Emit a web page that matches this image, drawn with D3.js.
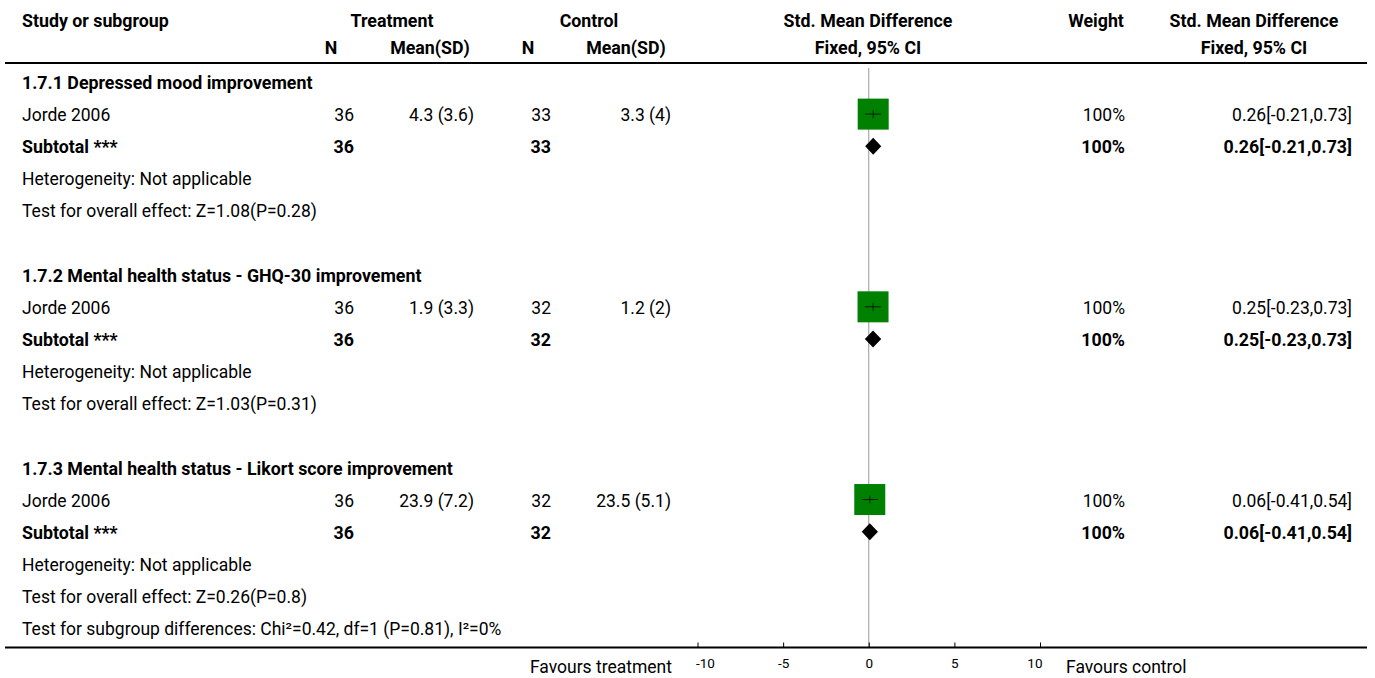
<!DOCTYPE html>
<html>
<head>
<meta charset="utf-8">
<script src="https://cdn.jsdelivr.net/npm/d3@7"></script>
<style>
  html, body { margin: 0; padding: 0; background: #fff; }
  svg { display: block; }
  text { font-family: Roboto, "Open Sans", sans-serif; font-size: 17.5px; fill: #000; }
  .b { font-weight: bold; font-size: 17.8px; }
  .tick text { font-family: Roboto, sans-serif; font-size: 13.5px; }
</style>
</head>
<body>
<svg id="chart" width="1375" height="678"></svg>
<script>
// ---------- data ----------
const subgroupTitles = [
  "1.7.1 Depressed mood improvement",
  "1.7.2 Mental health status - GHQ-30 improvement",
  "1.7.3 Mental health status - Likort score improvement"
];
const studyNames = ["Jorde 2006", "Jorde 2006", "Jorde 2006"];
const treatN = [36, 36, 36];
const treatMean = [4.3, 1.9, 23.9];
const treatSD = [3.6, 3.3, 7.2];
const ctrlN = [33, 32, 32];
const ctrlMean = [3.3, 1.2, 23.5];
const ctrlSD = [4, 2, 5.1];
const smd = [0.26, 0.25, 0.06];
const ciLow = [-0.21, -0.23, -0.41];
const ciHigh = [0.73, 0.73, 0.54];
const weights = [100, 100, 100];
const subtotalSmd = [0.26, 0.25, 0.06];
const subtotalLow = [-0.21, -0.23, -0.41];
const subtotalHigh = [0.73, 0.73, 0.54];
const heterogeneityText = [
  "Heterogeneity: Not applicable",
  "Heterogeneity: Not applicable",
  "Heterogeneity: Not applicable"
];
const overallEffectText = [
  "Test for overall effect: Z=1.08(P=0.28)",
  "Test for overall effect: Z=1.03(P=0.31)",
  "Test for overall effect: Z=0.26(P=0.8)"
];
const subgroupDiffText = "Test for subgroup differences: Chi\u00b2=0.42, df=1 (P=0.81), I\u00b2=0%";
const axisTicks = [-10, -5, 0, 5, 10];
const favoursLeft = "Favours treatment";
const favoursRight = "Favours control";

// ---------- layout ----------
const svg = d3.select("#chart");
const x = d3.scaleLinear().domain([-10, 10]).range([697.5, 1040]);
const rowY = d3.scaleLinear().domain([0, 17]).range([82, 628]);
const boxSize = d3.scaleSqrt().domain([0, 100]).range([0, 31]);
const fmt = (m, s) => `${m} (${s})`;
const ci = (e, l, h) => `${e}[${l},${h}]`;

const col = {
  study: 22, tN: 354, tM: 474, cN: 551, cM: 671, w: 1125, ci: 1352
};
const header1 = 20, header2 = 47, headerLine = 63, axisY = 647.5;

function txt(xp, yp, s, anchor, bold) {
  svg.append("text").attr("x", xp).attr("y", yp).attr("dy", "0.4em")
    .attr("text-anchor", anchor || "start").attr("class", bold ? "b" : null).text(s);
}

// header
txt(col.study, header1, "Study or subgroup", "start", true);
txt(392, header1, "Treatment", "middle", true);
txt(589, header1, "Control", "middle", true);
txt(868, header1, "Std. Mean Difference", "middle", true);
txt(1096, header1, "Weight", "middle", true);
txt(1254, header1, "Std. Mean Difference", "middle", true);
txt(331, header2, "N", "middle", true);
txt(430, header2, "Mean(SD)", "middle", true);
txt(528, header2, "N", "middle", true);
txt(626, header2, "Mean(SD)", "middle", true);
txt(868, header2, "Fixed, 95% CI", "middle", true);
txt(1254, header2, "Fixed, 95% CI", "middle", true);

svg.append("line").attr("x1", 5).attr("x2", 1367).attr("y1", headerLine).attr("y2", headerLine)
  .attr("stroke", "#000").attr("stroke-width", 2);

// zero line
svg.append("line").attr("x1", x(0)).attr("x2", x(0)).attr("y1", 68).attr("y2", axisY)
  .attr("stroke", "#999").attr("stroke-width", 1);

// rows
subgroupTitles.forEach((title, i) => {
  const base = i * 6;
  txt(col.study, rowY(base), title, "start", true);
  const ys = rowY(base + 1);
  txt(col.study, ys, studyNames[i]);
  txt(col.tN, ys, treatN[i], "end");
  txt(col.tM, ys, fmt(treatMean[i], treatSD[i]), "end");
  txt(col.cN, ys, ctrlN[i], "end");
  txt(col.cM, ys, fmt(ctrlMean[i], ctrlSD[i]), "end");
  txt(col.w, ys, weights[i] + "%", "end");
  txt(col.ci, ys, ci(smd[i], ciLow[i], ciHigh[i]), "end");
  // box
  const s = boxSize(weights[i]);
  svg.append("rect").attr("x", x(smd[i]) - s / 2).attr("y", ys - s / 2)
    .attr("width", s).attr("height", s).attr("fill", "#008000");
  svg.append("line").attr("x1", x(ciLow[i])).attr("x2", x(ciHigh[i])).attr("y1", ys).attr("y2", ys)
    .attr("stroke", "#000").attr("stroke-opacity", 0.75).attr("stroke-width", 1);
  svg.append("line").attr("x1", x(smd[i])).attr("x2", x(smd[i])).attr("y1", ys - 4).attr("y2", ys + 4)
    .attr("stroke", "#000").attr("stroke-opacity", 0.75).attr("stroke-width", 1);

  const yt = rowY(base + 2);
  txt(col.study, yt, "Subtotal ***", "start", true);
  txt(col.tN, yt, treatN[i], "end", true);
  txt(col.cN, yt, ctrlN[i], "end", true);
  txt(col.w, yt, "100%", "end", true);
  txt(col.ci, yt, ci(subtotalSmd[i], subtotalLow[i], subtotalHigh[i]), "end", true);
  const dh = 8.5;
  svg.append("path")
    .attr("d", `M${x(subtotalLow[i])},${yt} L${x(subtotalSmd[i])},${yt - dh} L${x(subtotalHigh[i])},${yt} L${x(subtotalSmd[i])},${yt + dh} Z`)
    .attr("fill", "#000");

  txt(col.study, rowY(base + 3), heterogeneityText[i]);
  txt(col.study, rowY(base + 4), overallEffectText[i]);
});
txt(col.study, rowY(17), subgroupDiffText);

// axis
const axis = d3.axisBottom(x).tickValues(axisTicks).tickSize(0).tickPadding(0).tickFormat(d => String(d));
const g = svg.append("g").attr("transform", `translate(0,${axisY})`);
g.call(axis);
g.select(".domain").remove();
g.selectAll(".tick line").remove();
g.selectAll(".tick").append("line").attr("y1", -5).attr("y2", 0).attr("stroke", "#000");
g.selectAll(".tick text").attr("y", 16).attr("dy", "0.35em").attr("fill", "#000")
  .attr("text-anchor", (d, i, n) => i === 0 ? "start" : (i === n.length - 1 ? "end" : "middle"))
  .attr("dx", (d, i, n) => i === 0 ? -2 : (i === n.length - 1 ? 2 : 0));
svg.append("line").attr("x1", 5).attr("x2", 1367).attr("y1", axisY).attr("y2", axisY)
  .attr("stroke", "#000").attr("stroke-width", 2);

txt(672, axisY + 18, favoursLeft, "end");
txt(1066, axisY + 18, favoursRight, "start");
</script>
</body>
</html>
